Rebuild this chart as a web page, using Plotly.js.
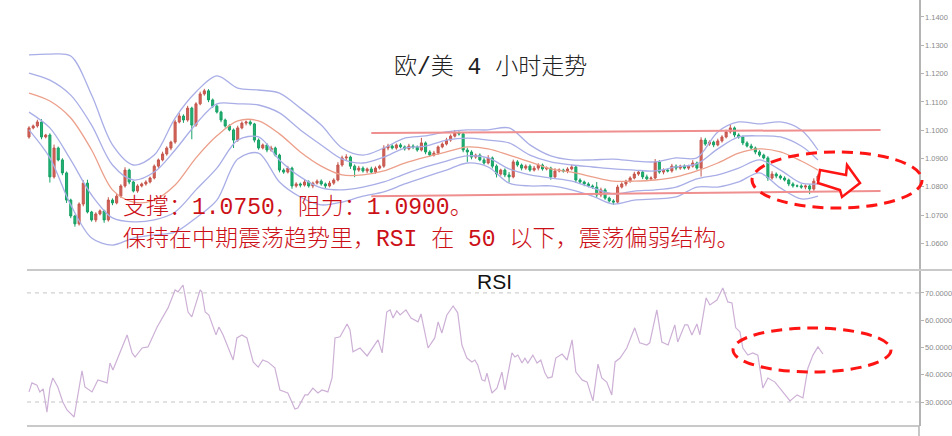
<!DOCTYPE html>
<html><head><meta charset="utf-8">
<script src="https://cdn.plot.ly/plotly-3.0.1.min.js"></script>
<style>html,body{margin:0;padding:0;background:#fff;}#chart{width:952px;height:436px;}</style>
</head><body><div id="chart"></div>
<script>
// ---- price data (EUR/USD 4h) ----
const firstOpen = 1.0976;
const closePrice = [
1.1008,1.1015,1.1029,1.0976,1.0983,1.0835,1.0937,1.0895,1.0849,1.0753,
1.0697,1.0669,1.0739,1.0813,1.0711,1.0683,1.0704,1.0715,1.0683,1.0753,
1.0743,1.0767,1.0803,1.0859,1.0817,1.0785,1.0803,1.0810,1.0817,1.0831,
1.0873,1.0895,1.0916,1.0937,1.0958,1.1029,1.1050,1.1036,1.1078,1.1018,
1.1093,1.1128,1.1139,1.1107,1.1085,1.1064,1.1036,1.1015,1.1001,1.0965,
1.1008,1.1025,1.1029,1.1022,1.0965,1.0937,1.0948,1.0930,1.0937,1.0912,
1.0859,1.0852,1.0866,1.0803,1.0810,1.0806,1.0817,1.0803,1.0813,1.0820,
1.0810,1.0803,1.0813,1.0824,1.0877,1.0902,1.0905,1.0873,1.0859,1.0866,
1.0856,1.0863,1.0852,1.0866,1.0873,1.0937,1.0944,1.0937,1.0948,1.0941,
1.0934,1.0944,1.0941,1.0930,1.0955,1.0923,1.0912,1.0919,1.0941,1.0951,
1.0965,1.0979,1.0990,1.0987,1.0930,1.0923,1.0905,1.0912,1.0895,1.0884,
1.0902,1.0873,1.0845,1.0859,1.0842,1.0835,1.0888,1.0877,1.0866,1.0873,
1.0859,1.0866,1.0877,1.0863,1.0866,1.0835,1.0856,1.0859,1.0856,1.0863,
1.0870,1.0824,1.0817,1.0810,1.0803,1.0799,1.0771,1.0789,1.0760,1.0750,
1.0746,1.0799,1.0810,1.0820,1.0831,1.0845,1.0852,1.0835,1.0828,1.0831,
1.0888,1.0852,1.0859,1.0856,1.0873,1.0866,1.0873,1.0866,1.0873,1.0884,
1.0866,1.0965,1.0951,1.0958,1.0948,1.0962,1.0976,1.0994,1.1008,1.0983,
1.0976,1.0955,1.0944,1.0937,1.0923,1.0912,1.0902,1.0831,1.0845,1.0838,
1.0831,1.0824,1.0810,1.0803,1.0803,1.0799,1.0803,1.0792,1.0820,1.0838
];
// upper / lower shadow lengths, in pips
const wickUpPips = [
6,5,8,10,4,6,12,5,6,5, 5,4,6,10,12,4,6,5,4,10, 6,8,6,10,5,4,6,5,6,5,
6,5,8,6,5,8,10,6,8,5, 6,8,7,6,5,6,5,5,6,5, 8,6,5,6,4,6,5,6,8,5,
5,6,8,5,6,5,8,6,5,6, 6,5,8,6,10,8,10,5,6,8, 6,5,8,6,5,10,8,6,5,6,
5,8,6,5,18,5,6,8,5,6, 8,6,10,6,5,8,6,5,6,8, 10,5,6,5,6,10,8,6,5,6,
6,8,6,5,6,5,10,6,5,6, 8,5,6,5,6,5,18,8,6,5, 6,8,6,5,6,8,6,5,8,6,
10,6,6,5,8,6,5,6,5,10, 5,10,8,6,5,8,6,8,14,5, 6,5,6,8,5,6,5,6,10,6,
5,6,5,6,5,6,5,6,10,8
];
const wickDnPips = [
6,5,6,8,5,20,6,5,8,10, 8,10,6,8,5,6,8,5,10,6, 8,5,6,6,8,5,6,5,6,5,
5,6,5,6,8,6,5,10,6,50, 6,5,6,8,6,5,8,6,5,28, 6,5,8,6,8,6,5,8,6,5,
8,6,5,10,6,8,5,6,8,5, 6,8,5,6,5,6,8,10,25,6, 6,8,5,6,5,6,8,5,6,5,
6,5,8,6,5,8,6,5,6,5, 5,6,5,6,8,35,8,6,5,6, 5,8,12,6,8,20,5,6,8,6,
6,5,8,6,5,10,6,5,6,8, 5,10,6,8,5,6,10,8,6,5, 10,6,5,8,6,5,6,8,6,5,
5,6,8,5,6,8,6,5,6,5, 6,30,6,6,8,5,6,5,6,8, 6,8,5,6,8,6,5,10,6,8,
6,5,8,6,5,6,8,18,6,5
];

// ---- Bollinger style bands (read at every 5th bar) ----
const bandIdx = [0,5,10,15,20,25,30,35,40,45,50,55,60,65,70,75,80,85,90,95,100,105,110,115,120,125,130,135,140,145,150,155,160,165,170,175,180,185,189];
const bandOuterUp = [1.1266,1.1269,1.1262,1.1124,1.0948,1.0877,1.0912,1.1043,1.1135,1.1192,1.1149,1.1142,1.1131,1.1078,1.1018,1.0937,1.0912,1.0937,1.0972,1.0980,1.0994,1.1001,1.1001,1.1008,1.0948,1.0909,1.0895,1.0895,1.0898,1.0891,1.0888,1.0902,1.0902,1.0994,1.1029,1.1022,1.1029,1.1001,1.0930];
const bandInnerUp = [1.1202,1.1177,1.1124,1.1018,1.0877,1.0824,1.0852,1.0930,1.1022,1.1093,1.1093,1.1089,1.1061,1.1001,1.0948,1.0898,1.0884,1.0905,1.0937,1.0944,1.0965,1.0972,1.0965,1.0955,1.0912,1.0888,1.0877,1.0870,1.0863,1.0859,1.0856,1.0870,1.0881,1.0934,1.0976,1.0980,1.0976,1.0944,1.0895];
const bandMiddle  = [1.1131,1.1103,1.1043,1.0930,1.0789,1.0746,1.0753,1.0806,1.0902,1.0980,1.1033,1.1033,1.0987,1.0923,1.0873,1.0842,1.0842,1.0856,1.0884,1.0905,1.0923,1.0941,1.0934,1.0912,1.0888,1.0863,1.0852,1.0835,1.0820,1.0820,1.0824,1.0835,1.0856,1.0884,1.0919,1.0934,1.0923,1.0891,1.0859];
const bandInnerDn = [1.1064,1.1008,1.0895,1.0771,1.0690,1.0676,1.0683,1.0711,1.0789,1.0866,1.0965,1.0976,1.0895,1.0835,1.0796,1.0789,1.0799,1.0817,1.0845,1.0870,1.0891,1.0909,1.0902,1.0863,1.0842,1.0831,1.0820,1.0796,1.0775,1.0785,1.0789,1.0799,1.0828,1.0842,1.0866,1.0895,1.0859,1.0813,1.0810];
const bandOuterDn = [1.1001,1.0902,1.0736,1.0619,1.0594,1.0619,1.0630,1.0640,1.0690,1.0753,1.0898,1.0919,1.0817,1.0764,1.0736,1.0746,1.0767,1.0782,1.0810,1.0835,1.0859,1.0884,1.0870,1.0813,1.0803,1.0803,1.0789,1.0767,1.0739,1.0753,1.0757,1.0764,1.0799,1.0799,1.0817,1.0849,1.0796,1.0757,1.0767];

// ---- resistance / support lines ----
const levelIdx = [82, 204];
const resistanceLevel = [1.0990, 1.1001];
const supportLevel = [1.0767, 1.0785];

// ---- RSI ----
const rsiIdx = [0,0.7,1.9,2.6,3.4,4.3,5.0,5.7,6.9,8.1,9.1,10.8,12.7,13.4,15.1,16.5,18.7,19.4,20.1,23.5,24.7,25.4,27.1,28.5,30.7,32.1,33.3,35.0,35.7,36.9,38.1,39.0,41.0,41.4,42.2,43.1,44.8,45.5,46.5,48.9,49.8,51.0,52.2,53.7,54.9,56.0,57.2,58.9,60.1,62.0,63.7,64.4,66.1,66.8,68.0,69.2,70.2,71.6,72.6,73.3,74.5,76.2,76.9,77.6,79.3,81.0,83.6,84.6,85.7,86.5,87.2,88.1,88.9,90.3,91.5,93.2,93.9,95.6,96.8,97.2,98.0,98.9,100.1,101.6,102.7,103.7,104.9,106.1,106.8,107.5,108.5,109.2,109.7,110.9,112.1,113.3,114.0,115.7,116.4,117.1,118.1,118.8,119.5,120.7,121.7,122.6,123.6,124.3,125.3,126.2,127.7,128.9,130.1,131.0,132.5,133.7,135.1,136.3,137.2,138.4,139.6,140.4,141.6,143.2,145.1,146.3,148.0,148.7,150.4,151.6,153.1,154.7,155.4,157.1,157.8,158.8,160.0,160.7,162.2,163.1,164.8,166.2,167.4,168.4,169.3,170.3,171.0,172.2,173.4,174.6,175.8,177.0,178.7,180.6,182.3,184.0,185.4,186.6,187.8,189.0,190.2];
const rsiVal = [33.7,37.0,36.2,33.7,34.8,26.3,35.1,38.8,35.5,30.0,27.1,24.5,41.4,35.5,33.7,38.1,37.0,44.3,41.7,54.6,48.0,46.5,49.8,50.2,57.5,61.2,64.5,71.1,70.4,72.9,63.0,61.2,71.1,70.4,63.0,61.9,54.6,57.5,54.6,45.4,53.5,54.6,53.5,44.7,42.8,45.4,44.7,42.5,34.4,33.3,27.4,27.8,32.6,32.6,35.1,33.3,34.4,33.7,38.8,53.5,53.9,58.6,56.4,48.4,49.8,46.9,52.8,48.0,63.0,63.8,60.8,63.4,61.9,63.8,60.8,59.4,62.3,49.8,52.8,53.5,59.4,55.3,61.9,65.2,62.7,50.9,46.1,44.7,45.4,43.6,38.1,37.7,40.6,33.3,35.1,41.0,34.4,48.0,46.5,47.2,44.3,46.1,44.3,47.2,44.3,45.4,40.6,38.8,39.2,46.1,47.6,45.4,52.8,41.0,38.1,37.3,30.4,43.9,38.8,37.3,32.6,44.7,46.1,49.8,57.2,51.7,50.9,51.7,63.8,52.0,50.9,58.3,52.0,58.3,58.3,54.6,58.6,54.6,68.2,65.6,67.4,71.8,66.7,66.3,57.2,55.7,49.8,47.2,48.0,47.2,35.1,38.8,37.3,33.7,30.4,32.6,31.5,42.5,47.2,50.2,47.6];
const rsiLevels = [70, 30];

// ---- axis ticks ----
const priceTicks = [1.06,1.07,1.08,1.09,1.10,1.11,1.12,1.13,1.14];
const rsiTicks = [30,40,50,60,70];

// ---- texts ----
const titleText = '欧/美 4 小时走势';
const noteLine1 = '支撑：1.0750，阻力：1.0900。';
const noteLine2 = '保持在中期震荡趋势里，RSI 在 50 以下，震荡偏弱结构。';

// build OHLC
const barIdx = closePrice.map((_, i) => i);
const openPrice = closePrice.map((c, i) => i === 0 ? firstOpen : closePrice[i - 1]);
const highPrice = closePrice.map((c, i) => Math.max(openPrice[i], c) + wickUpPips[i] * 0.0001);
const lowPrice = closePrice.map((c, i) => Math.min(openPrice[i], c) - wickDnPips[i] * 0.0001);

const BLUE = '#a9aee6', ORANGE = '#ec9f8a';
function band(y, color) {
  return {type:'scatter', mode:'lines', x:bandIdx, y:y, xaxis:'x', yaxis:'y',
    line:{color:color, width:1.3, shape:'spline', smoothing:0.9}, hoverinfo:'skip'};
}
const traces = [
  band(bandOuterUp, BLUE), band(bandInnerUp, BLUE), band(bandMiddle, ORANGE),
  band(bandInnerDn, BLUE), band(bandOuterDn, BLUE),
  {type:'scatter', mode:'lines', x:levelIdx, y:resistanceLevel, line:{color:'#ef8f8f', width:2}, hoverinfo:'skip'},
  {type:'scatter', mode:'lines', x:levelIdx, y:supportLevel, line:{color:'#ef8f8f', width:2}, hoverinfo:'skip'},
  {type:'candlestick', x:barIdx, open:openPrice, high:highPrice, low:lowPrice, close:closePrice,
    xaxis:'x', yaxis:'y', whiskerwidth:0,
    increasing:{line:{color:'#c4564c', width:1}, fillcolor:'#d4625a'},
    decreasing:{line:{color:'#17a065', width:1}, fillcolor:'#22b374'}, hoverinfo:'skip'},
  {type:'scatter', mode:'lines', x:rsiIdx, y:rsiVal, xaxis:'x', yaxis:'y2',
    line:{color:'#cdb0d6', width:1.2}, hoverinfo:'skip'}
];

const PD = 156/426; // price / rsi split
const axisCommon = {side:'right', showgrid:false, zeroline:false, showline:true, linecolor:'#b4b4b4', linewidth:1.5,
  ticks:'outside', ticklen:3, tickcolor:'#b4b4b4', tickfont:{size:7.5, color:'#8a8a8a', family:'Liberation Sans'},
  tickformat:'.4f', anchor:'x', fixedrange:true};
const shapes = [];
rsiLevels.forEach(v => shapes.push({type:'line', xref:'paper', yref:'y2', x0:0, x1:1, y0:v, y1:v,
  line:{color:'#c4c4c4', width:1, dash:'4px,4px'}, layer:'below'}));
shapes.push({type:'line', xref:'paper', yref:'paper', x0:0, x1:925/892, y0:PD, y1:PD, line:{color:'#c9c9c9', width:2}});
shapes.push({type:'line', xref:'paper', yref:'paper', x0:0, x1:1, y0:0, y1:0, line:{color:'#c9c9c9', width:2}});
shapes.push({type:'line', xref:'paper', yref:'paper', x0:1, x1:1, y0:-10/426, y1:0, line:{color:'#b4b4b4', width:1.5}});
// red dashed highlights
shapes.push({type:'circle', xref:'paper', yref:'paper', x0:0.8128, x1:1.0034, y0:0.5117, y1:0.6432,
  line:{color:'#ff1414', width:3, dash:'11px,7px'}});
shapes.push({type:'circle', xref:'paper', yref:'paper', x0:0.7915, x1:0.9686, y0:0.1268, y1:0.2300,
  line:{color:'#ff1414', width:3, dash:'11px,7px'}});
// outlined arrow (pixel corners converted to paper fractions)
shapes.push({type:'path', xref:'paper', yref:'paper',
  path:'M 0.8890 0.6009 L 0.9182 0.5892 L 0.9193 0.6127 L 0.9339 0.5704 L 0.9137 0.5376 L 0.9114 0.5540 L 0.8868 0.5704 Z',
  fillcolor:'#ffffff', line:{color:'#ff1414', width:2.5}});

const cjk = "'Liberation Mono', 'Noto Sans CJK SC', sans-serif";
const layout = {
  width:952, height:436, margin:{l:27, r:33, t:0, b:10, pad:0},
  paper_bgcolor:'#ffffff', plot_bgcolor:'#ffffff', showlegend:false,
  font:{family:'Liberation Sans', color:'#333'},
  xaxis:{range:[-0.48, 213.2], showticklabels:false, showgrid:false, zeroline:false, showline:false,
    ticks:'', rangeslider:{visible:false}, anchor:'y2', fixedrange:true},
  yaxis:Object.assign({}, axisCommon, {domain:[PD, 1], range:[1.0506, 1.1460], tickvals:priceTicks}),
  yaxis2:Object.assign({}, axisCommon, {domain:[0, PD], range:[21.2, 78.4], tickvals:rsiTicks}),
  shapes:shapes,
  annotations:[
    {xref:'paper', yref:'paper', x:(490-27)/892, y:(426-68)/426, text:titleText, showarrow:false,
      xanchor:'center', yanchor:'middle', font:{family:cjk, size:23, color:'#222', weight:300}},
    {xref:'paper', yref:'paper', x:(121-27)/892, y:(426-207)/426, text:noteLine1, showarrow:false,
      xanchor:'left', yanchor:'middle', font:{family:cjk, size:23, color:'#cc1018', weight:300}},
    {xref:'paper', yref:'paper', x:(121-27)/892, y:(426-239)/426, text:noteLine2, showarrow:false,
      xanchor:'left', yanchor:'middle', font:{family:cjk, size:23, color:'#cc1018', weight:300}},
    {xref:'paper', yref:'paper', x:(494-27)/892, y:(426-281)/426, text:'RSI', showarrow:false,
      xanchor:'center', yanchor:'middle', font:{family:'Liberation Sans', size:21, color:'#111'}}
  ]
};
Plotly.newPlot('chart', traces, layout, {staticPlot:true, displayModeBar:false});
</script>
</body></html>
